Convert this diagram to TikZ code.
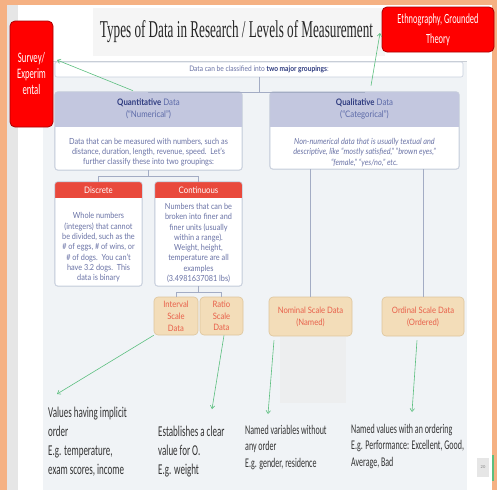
\documentclass[tikz,border=0pt]{standalone}
\usepackage{fontspec}
\usepackage{graphicx}
\setmainfont{Lato}
\newfontfamily\latof[FakeStretch=0.87]{Lato}
\newfontfamily\calf[FakeStretch=0.6]{Carlito}
\newfontfamily\titf{Liberation Serif}
\usetikzlibrary{arrows.meta}
\definecolor{orangebg}{HTML}{F5B183}
\definecolor{stripgray}{HTML}{E6E6E6}
\definecolor{titlegray}{HTML}{F5F5F5}
\definecolor{panel}{HTML}{F0F3F6}
\definecolor{panelline}{HTML}{C8CDD4}
\definecolor{ghost}{HTML}{EDEEEF}
\definecolor{cardline}{HTML}{C9D0DD}
\definecolor{connline}{HTML}{A3ACC4}
\definecolor{hdrfill}{HTML}{C3C7DF}
\definecolor{navy}{HTML}{2F3C80}
\definecolor{hdrtext}{HTML}{5C6AA8}
\definecolor{bodytext}{HTML}{6A73A6}
\definecolor{redhdr}{HTML}{E9493C}
\definecolor{tanfill}{HTML}{F3DDB9}
\definecolor{tanline}{HTML}{DDC59C}
\definecolor{coral}{HTML}{E8604A}
\definecolor{purered}{HTML}{FF0000}
\definecolor{darkred}{HTML}{A80000}
\definecolor{arrowgreen}{HTML}{5CBF7F}
\definecolor{anntext}{HTML}{333333}
\definecolor{titlecol}{HTML}{262626}
\begin{document}
\begin{tikzpicture}[x=1pt,y=-1pt,
  card/.style={draw=cardline, fill=white, rounded corners=3pt, line width=0.6pt, inner sep=0pt},
  conn/.style={draw=connline, line width=0.6pt},
  garrow/.style={draw=arrowgreen, line width=0.6pt, -{Straight Barb[length=3pt,width=4.5pt]}},
  btxt/.style={font=\latof\fontsize{8.4}{10.3}\selectfont, text=bodytext, align=center, inner sep=0pt},
  htxt/.style={font=\latof\fontsize{9}{12}\selectfont, text=hdrtext, align=center, inner sep=0pt},
  wtxt/.style={font=\latof\fontsize{9}{11}\selectfont, text=white, align=center, inner sep=0pt},
  tanbox/.style={draw=tanline, fill=tanfill, rounded corners=4pt, line width=0.6pt, inner sep=0pt, text=coral, align=center, font=\latof\fontsize{8.8}{11.8}\selectfont},
  redbox/.style={draw=darkred, fill=purered, rounded corners=5pt, line width=0.8pt, inner sep=0pt, text=white, align=center},
  ann/.style={font=\calf\fontsize{15}{19}\selectfont, text=anntext, align=left, inner sep=0pt, anchor=north west},
  annsm/.style={font=\calf\fontsize{13.3}{16.7}\selectfont, text=anntext, align=left, inner sep=0pt, anchor=north west}
]
\useasboundingbox (0,0) rectangle (497,490);
% background
\fill[orangebg] (0,0) rectangle (497,490);
\fill[white] (7,5) rectangle (492,490);
\fill[stripgray] (7,5) rectangle (18,490);
\fill[titlegray] (93,8) rectangle (385,56);
\fill[panel] (43,61) rectangle (467,490);
\draw[panelline, line width=0.6pt] (43,61) -- (467,61);
\fill[ghost] (280,337) rectangle (346,403);
\fill[stripgray] (477,458) rectangle (489,477);
\node[font=\fontsize{4}{4}\selectfont, text=gray, inner sep=0pt] (pagenum) at (483,467.5) {20};
\draw[arrowgreen, line width=1.4pt] (493,455) -- (493,481);

% title
\node[font=\titf, text=titlecol, inner sep=0pt, anchor=base] (title) at (236.5,37) {\resizebox{273pt}{17pt}{Types of Data in Research / Levels of Measurement}};

% top grouping box
\node[card, rounded corners=2pt, minimum width=408pt, minimum height=15pt, font=\latof\fontsize{7.6}{9}\selectfont, text=bodytext] (classbox) at (259,69.5) {Data can be classified into \textbf{\color{navy}two major groupings}:};

% quantitative card
\node[card, minimum width=187pt, minimum height=78pt] (quant) at (148.5,131) {};
\begin{scope}
\clip[rounded corners=3pt] (quant.north west) rectangle (quant.south east);
\fill[hdrfill] (quant.north west) rectangle (242,127);
\end{scope}
\draw[cardline, line width=0.6pt, rounded corners=3pt] (quant.north west) rectangle (quant.south east);
\node[htxt] (quanthead) at (148.5,109) {\textbf{\color{navy}Quantitative} Data\\(“Numerical”)};
\node[btxt] (quantbody) at (148.5,152) {Data that can be measured with numbers, such as\\distance, duration, length, revenue, speed.\ \ Let’s\\further classify these into two groupings:};

% qualitative card
\node[card, minimum width=189pt, minimum height=77pt] (qual) at (364.5,130.5) {};
\begin{scope}
\clip[rounded corners=3pt] (qual.north west) rectangle (qual.south east);
\fill[hdrfill] (qual.north west) rectangle (459,127);
\end{scope}
\draw[cardline, line width=0.6pt, rounded corners=3pt] (qual.north west) rectangle (qual.south east);
\node[htxt] (qualhead) at (364.5,109) {\textbf{\color{navy}Qualitative} Data\\(“Categorical”)};
\node[btxt, font=\latof\itshape\fontsize{8.4}{10.3}\selectfont] (qualbody) at (364.5,152.5) {Non-numerical data that is usually textual and\\descriptive, like “mostly satisfied,” “brown eyes,”\\“female,” “yes/no,” etc.};

% discrete card
\node[card, minimum width=87pt, minimum height=104pt] (disc) at (98.5,234) {};
\begin{scope}
\clip[rounded corners=3pt] (disc.north west) rectangle (disc.south east);
\fill[redhdr] (disc.north west) rectangle (142,198);
\end{scope}
\draw[cardline, line width=0.6pt, rounded corners=3pt] (disc.north west) rectangle (disc.south east);
\node[wtxt] (dischead) at (98.5,190) {Discrete};
\node[btxt] (discbody) at (98.5,247.5) {Whole numbers\\(integers) that cannot\\be divided, such as the\\\# of eggs, \# of wins, or\\\# of dogs.\ \ You can’t\\have 3.2 dogs.\ \ This\\data is binary};

% continuous card
\node[card, minimum width=87pt, minimum height=104pt] (cont) at (198.5,234) {};
\begin{scope}
\clip[rounded corners=3pt] (cont.north west) rectangle (cont.south east);
\fill[redhdr] (cont.north west) rectangle (242,198);
\end{scope}
\draw[cardline, line width=0.6pt, rounded corners=3pt] (cont.north west) rectangle (cont.south east);
\node[wtxt] (conthead) at (198.5,190) {Continuous};
\node[btxt] (contbody) at (198.5,243) {Numbers that can be\\broken into finer and\\finer units (usually\\within a range).\\Weight, height,\\temperature are all\\examples\\(3.4981637081 lbs)};

% scale boxes
\node[tanbox, minimum width=44pt, minimum height=38pt] (interval) at (176,316) {Interval\\Scale\\Data};
\node[tanbox, minimum width=43pt, minimum height=38pt] (ratio) at (221.5,316) {Ratio\\Scale\\Data};
\node[tanbox, minimum width=83pt, minimum height=39pt] (nominal) at (310.5,316.5) {Nominal Scale Data\\(Named)};
\node[tanbox, minimum width=82pt, minimum height=39pt] (ordinal) at (423,316.5) {Ordinal Scale Data\\(Ordered)};

% tree connectors
\draw[conn] (classbox.south) -- ++(0,15) -| (quant.north);
\draw[conn] (classbox.south) -- ++(0,15) -| (qual.north);
\draw[conn] (quant.south) -- ++(0,6) -| (disc.north);
\draw[conn] (quant.south) -- ++(0,6) -| (cont.north);
\draw[conn] (cont.south) -- ++(0,5.5) -| (interval.north);
\draw[conn] (cont.south) -- ++(0,5.5) -| (ratio.north);
\draw[conn] (nominal.north |- qual.south) -- (nominal.north);
\draw[conn] (ordinal.north |- qual.south) -- (ordinal.north);

% red method boxes
\node[redbox, minimum width=43pt, minimum height=106pt, font=\calf\fontsize{14.5}{16}\selectfont] (survey) at (31.5,74) {Survey/\\Experim\\ental};
\node[redbox, minimum width=112pt, minimum height=45pt, font=\calf\fontsize{14}{20}\selectfont] (ethno) at (438,29.5) {Ethnography, Grounded\\Theory};

% annotations
\node[ann] (vals) at (48,406.4) {Values having implicit\\order\\E.g. temperature,\\exam scores, income};
\node[ann] (estab) at (158,425.4) {Establishes a clear\\value for O.\\E.g. weight};
\node[annsm] (namedvars) at (245,424.6) {Named variables without\\any order\\E.g. gender, residence};
\node[annsm] (namedvals) at (351,423.6) {Named values with an ordering\\E.g. Performance: Excellent, Good,\\Average, Bad};

% green arrows
\coordinate (svend) at (57,60);
\coordinate (etend) at (380,33);
\coordinate (a1) at (57,394);
\coordinate (a2) at (212,409);
\coordinate (a3) at (268,414);
\coordinate (a4) at (412,412);
\draw[garrow] ([xshift=-15.5pt,yshift=1pt]quant.north) -- (svend);
\draw[garrow] ([xshift=6.5pt,yshift=6pt]qual.north) -- (etend);
\draw[garrow] (interval.south west) -- (a1);
\draw[garrow] ([xshift=2.5pt]ratio.south) -- (a2);
\draw[garrow] ([xshift=-36.5pt,yshift=-4pt]nominal.south) -- (a3);
\draw[garrow] ([xshift=-6pt,yshift=-4pt]ordinal.south) -- (a4);
\end{tikzpicture}
\end{document}
